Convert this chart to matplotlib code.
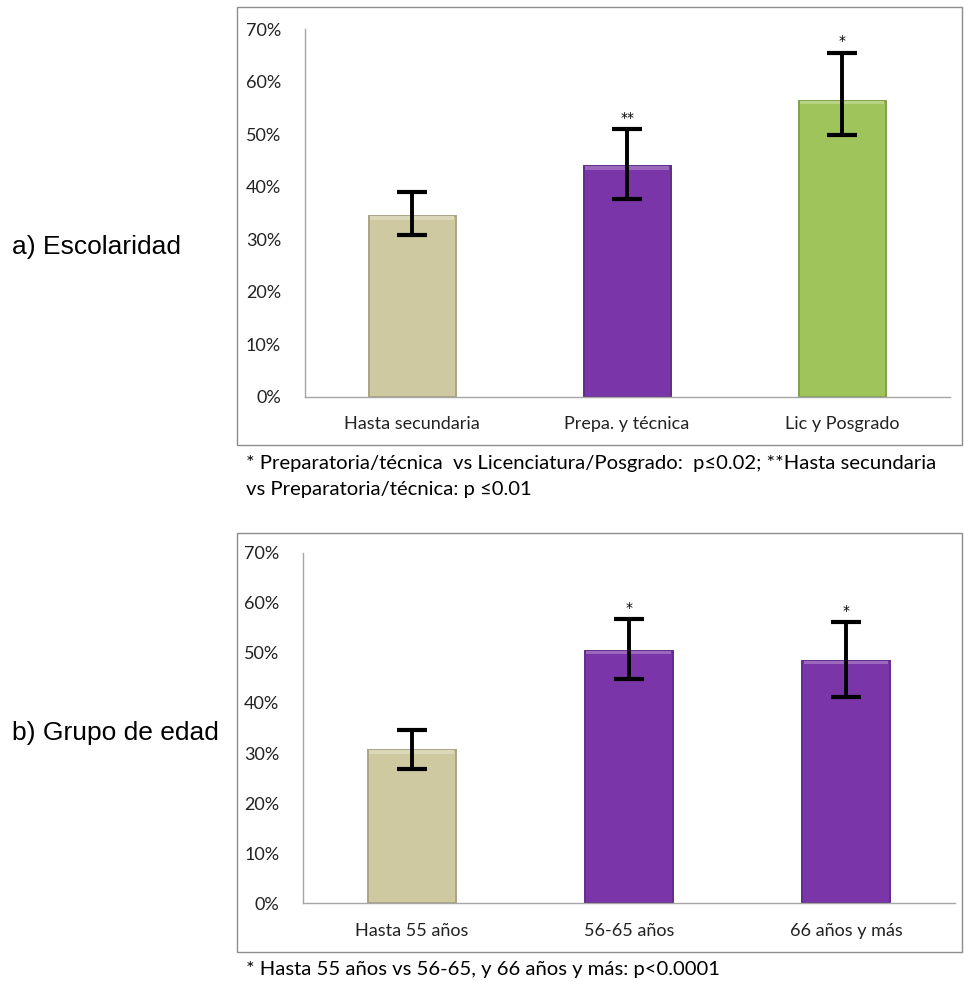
import matplotlib
matplotlib.use('Agg')
import matplotlib.pyplot as plt
from matplotlib.patches import Rectangle
import numpy as np

# Data (percent)
esc_labels = ['Hasta secundaria', 'Prepa. y técnica', 'Lic y Posgrado']
esc_values = [34.4, 44.0, 56.4]
esc_err_low = [30.8, 37.6, 49.9]
esc_err_high = [39.0, 51.0, 65.6]
esc_marks = ['', '**', '*']

edad_labels = ['Hasta 55 años', '56-65 años', '66 años y más']
edad_values = [30.6, 50.4, 48.4]
edad_err_low = [26.8, 44.8, 41.1]
edad_err_high = [34.7, 56.7, 56.2]
edad_marks = ['', '*', '*']

yticks = [0, 10, 20, 30, 40, 50, 60, 70]

TAN = '#cfc9a1'
PURPLE = '#7a35a8'
GREEN = '#9fc45c'

esc_colors = [TAN, PURPLE, GREEN]
edad_colors = [TAN, PURPLE, PURPLE]

FONT = 'Lato'

fig = plt.figure(figsize=(9.64, 9.82), dpi=100)


def shade(c, f):
    r, g, b, a = matplotlib.colors.to_rgba(c)
    if f < 1:
        return (r * f, g * f, b * f, 1)
    return (r + (1 - r) * (f - 1), g + (1 - g) * (f - 1), b + (1 - b) * (f - 1), 1)


def draw_panel(rect, labels, values, lo, hi, marks, colors):
    ax = fig.add_axes(rect)
    x = np.arange(len(labels))
    vals = np.array(values)
    yerr = [vals - np.array(lo), np.array(hi) - vals]
    ax.bar(x, vals, width=0.405, color=colors,
           edgecolor=[shade(c, 0.82) for c in colors], linewidth=1.4, zorder=2)
    # lighter bevel along the top of each bar
    ax.bar(x, [0.7] * len(x), bottom=vals - 0.7, width=0.39,
           color=[shade(c, 1.25) for c in colors], linewidth=0, zorder=2.5)
    ax.errorbar(x, vals, yerr=yerr, fmt='none', ecolor='black', elinewidth=2.8,
                capsize=11, capthick=3, zorder=3)
    for xi, top, m in zip(x, hi, marks):
        if m:
            ax.annotate(m, (xi, top), xytext=(0, 3), textcoords='offset points',
                        ha='center', va='bottom', fontsize=10, family='DejaVu Sans')
    ax.set_xlim(-0.5, len(labels) - 0.5)
    ax.set_ylim(0, 70)
    ax.set_yticks(yticks)
    ax.set_yticklabels([f'{t}%' for t in yticks], family=FONT, fontsize=13, color='#222222')
    ax.set_xticks(x)
    ax.set_xticklabels(labels, family=FONT, fontsize=13, color='#222222')
    ax.tick_params(axis='both', length=0)
    ax.tick_params(axis='y', pad=17)
    ax.tick_params(axis='x', pad=14)
    for s in ['top', 'right']:
        ax.spines[s].set_visible(False)
    for s in ['left', 'bottom']:
        ax.spines[s].set_color('#a6a6a6')
        ax.spines[s].set_linewidth(1.0)
    return ax


draw_panel([0.316, 0.596, 0.669, 0.374], esc_labels, esc_values,
           esc_err_low, esc_err_high, esc_marks, esc_colors)
draw_panel([0.3143, 0.0801, 0.676, 0.3571], edad_labels, edad_values,
           edad_err_low, edad_err_high, edad_marks, edad_colors)

# chart area borders
fig.patches.append(Rectangle((0.2459, 0.5468), 0.752, 0.4461, transform=fig.transFigure,
                             fill=False, edgecolor='#8c8c8c', linewidth=1.0))
fig.patches.append(Rectangle((0.2459, 0.0309), 0.752, 0.4266, transform=fig.transFigure,
                             fill=False, edgecolor='#8c8c8c', linewidth=1.0))

# side labels
fig.text(0.012, 1 - 247 / 982, 'a) Escolaridad', family='Liberation Sans', fontsize=19,
         va='center', ha='left')
fig.text(0.012, 1 - 733 / 982, 'b) Grupo de edad', family='Liberation Sans', fontsize=19,
         va='center', ha='left')

# footnotes
fig.text(246 / 964, 1 - 464 / 982,
         '* Preparatoria/técnica  vs Licenciatura/Posgrado:  p≤0.02; **Hasta secundaria',
         family=FONT, fontsize=14.6, va='center', ha='left')
fig.text(246 / 964, 1 - 489 / 982, 'vs Preparatoria/técnica: p ≤0.01',
         family=FONT, fontsize=14.6, va='center', ha='left')
fig.text(246 / 964, 1 - 970 / 982, '* Hasta 55 años vs 56-65, y 66 años y más: p<0.0001',
         family=FONT, fontsize=14.6, va='center', ha='left')

fig.savefig('out.png', dpi=100)
